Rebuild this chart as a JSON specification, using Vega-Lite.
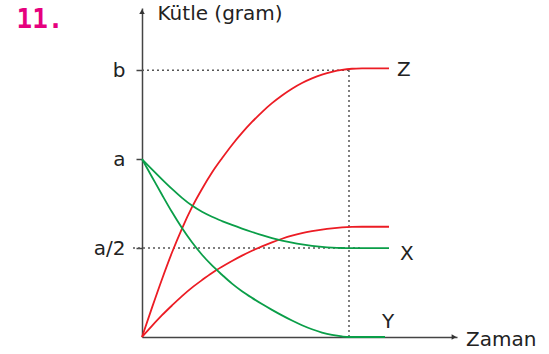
{
  "$schema": "https://vega.github.io/schema/vega-lite/v6.json",
  "width": 315,
  "height": 329,
  "autosize": "none",
  "padding": {"left": 142, "top": 8, "right": 92, "bottom": 17},
  "background": "white",
  "config": {"view": {"stroke": null}, "font": "DejaVu Sans"},
  "datasets": {
    "curves": [
      {"s": "Z", "t": 0, "m": 0},
      {"s": "Z", "t": 1, "m": 0.33},
      {"s": "Z", "t": 2, "m": 0.65},
      {"s": "Z", "t": 3, "m": 0.95},
      {"s": "Z", "t": 4, "m": 1.22},
      {"s": "Z", "t": 5, "m": 1.46},
      {"s": "Z", "t": 6, "m": 1.665},
      {"s": "Z", "t": 7, "m": 1.85},
      {"s": "Z", "t": 8, "m": 2.01},
      {"s": "Z", "t": 9, "m": 2.16},
      {"s": "Z", "t": 10, "m": 2.295},
      {"s": "Z", "t": 11, "m": 2.418},
      {"s": "Z", "t": 12, "m": 2.53},
      {"s": "Z", "t": 13, "m": 2.63},
      {"s": "Z", "t": 14, "m": 2.717},
      {"s": "Z", "t": 15, "m": 2.793},
      {"s": "Z", "t": 16, "m": 2.857},
      {"s": "Z", "t": 17, "m": 2.909},
      {"s": "Z", "t": 18, "m": 2.951},
      {"s": "Z", "t": 19, "m": 2.983},
      {"s": "Z", "t": 20, "m": 3.005},
      {"s": "Z", "t": 21, "m": 3.017},
      {"s": "Z", "t": 22, "m": 3.021},
      {"s": "Z", "t": 23, "m": 3.022},
      {"s": "Z", "t": 24.7, "m": 3.02},
      {"s": "R", "t": 0, "m": 0},
      {"s": "R", "t": 1, "m": 0.125},
      {"s": "R", "t": 2, "m": 0.245},
      {"s": "R", "t": 3, "m": 0.355},
      {"s": "R", "t": 4, "m": 0.46},
      {"s": "R", "t": 5, "m": 0.555},
      {"s": "R", "t": 6, "m": 0.64},
      {"s": "R", "t": 7, "m": 0.72},
      {"s": "R", "t": 8, "m": 0.79},
      {"s": "R", "t": 9, "m": 0.855},
      {"s": "R", "t": 10, "m": 0.915},
      {"s": "R", "t": 11, "m": 0.97},
      {"s": "R", "t": 12, "m": 1.02},
      {"s": "R", "t": 13, "m": 1.065},
      {"s": "R", "t": 14, "m": 1.105},
      {"s": "R", "t": 15, "m": 1.14},
      {"s": "R", "t": 16, "m": 1.168},
      {"s": "R", "t": 17, "m": 1.19},
      {"s": "R", "t": 18, "m": 1.208},
      {"s": "R", "t": 19, "m": 1.222},
      {"s": "R", "t": 20, "m": 1.232},
      {"s": "R", "t": 21, "m": 1.238},
      {"s": "R", "t": 22, "m": 1.24},
      {"s": "R", "t": 24.7, "m": 1.24},
      {"s": "X", "t": 0, "m": 2.0},
      {"s": "X", "t": 1, "m": 1.885},
      {"s": "X", "t": 2, "m": 1.773},
      {"s": "X", "t": 3, "m": 1.665},
      {"s": "X", "t": 4, "m": 1.565},
      {"s": "X", "t": 5, "m": 1.478},
      {"s": "X", "t": 6, "m": 1.408},
      {"s": "X", "t": 7, "m": 1.352},
      {"s": "X", "t": 8, "m": 1.304},
      {"s": "X", "t": 9, "m": 1.26},
      {"s": "X", "t": 10, "m": 1.219},
      {"s": "X", "t": 11, "m": 1.181},
      {"s": "X", "t": 12, "m": 1.145},
      {"s": "X", "t": 13, "m": 1.113},
      {"s": "X", "t": 14, "m": 1.085},
      {"s": "X", "t": 15, "m": 1.061},
      {"s": "X", "t": 16, "m": 1.041},
      {"s": "X", "t": 17, "m": 1.025},
      {"s": "X", "t": 18, "m": 1.013},
      {"s": "X", "t": 19, "m": 1.005},
      {"s": "X", "t": 20, "m": 1.001},
      {"s": "X", "t": 21, "m": 1.0},
      {"s": "X", "t": 24.7, "m": 1.0},
      {"s": "Y", "t": 0, "m": 2.0},
      {"s": "Y", "t": 1, "m": 1.8},
      {"s": "Y", "t": 2, "m": 1.6},
      {"s": "Y", "t": 3, "m": 1.405},
      {"s": "Y", "t": 4, "m": 1.225},
      {"s": "Y", "t": 5, "m": 1.065},
      {"s": "Y", "t": 6, "m": 0.925},
      {"s": "Y", "t": 7, "m": 0.805},
      {"s": "Y", "t": 8, "m": 0.7},
      {"s": "Y", "t": 9, "m": 0.6},
      {"s": "Y", "t": 10, "m": 0.515},
      {"s": "Y", "t": 11, "m": 0.44},
      {"s": "Y", "t": 12, "m": 0.37},
      {"s": "Y", "t": 13, "m": 0.305},
      {"s": "Y", "t": 14, "m": 0.243},
      {"s": "Y", "t": 15, "m": 0.185},
      {"s": "Y", "t": 16, "m": 0.132},
      {"s": "Y", "t": 17, "m": 0.087},
      {"s": "Y", "t": 18, "m": 0.05},
      {"s": "Y", "t": 19, "m": 0.023},
      {"s": "Y", "t": 20, "m": 0.006},
      {"s": "Y", "t": 20.7, "m": 0.0},
      {"s": "Y", "t": 24.3, "m": 0.0}
    ],
    "guides": [
      {"g": "b", "t": 0, "m": 3},
      {"g": "b", "t": 20.7, "m": 3},
      {"g": "h", "t": -0.9, "m": 1},
      {"g": "h", "t": 22, "m": 1},
      {"g": "v", "t": 20.7, "m": 0},
      {"g": "v", "t": 20.7, "m": 3}
    ],
    "arrows": [
      {"dir": "up", "t": 0, "m": 3.66},
      {"dir": "right", "t": 31.2, "m": 0}
    ],
    "labels": [
      {"txt": "Kütle (gram)", "t": 1.55, "m": 3.63},
      {"txt": "Z", "t": 25.5, "m": 3.0},
      {"txt": "X", "t": 25.8, "m": 0.93},
      {"txt": "Y", "t": 24.0, "m": 0.17},
      {"txt": "Zaman", "t": 32.4, "m": -0.03}
    ],
    "num": [
      {"txt": "11.", "t": -12.55, "m": 3.57}
    ]
  },
  "encoding": {
    "x": {
      "field": "t", "type": "quantitative",
      "scale": {"domain": [0, 31.5], "nice": false, "zero": false},
      "axis": {"values": [], "title": null, "grid": false, "ticks": false, "labels": false, "domainColor": "#444", "domainWidth": 1.5}
    },
    "y": {
      "field": "m", "type": "quantitative",
      "scale": {"domain": [0, 3.7], "nice": false, "zero": false},
      "axis": {
        "values": [1, 2, 3],
        "labelExpr": "datum.value == 3 ? 'b' : datum.value == 2 ? 'a' : 'a/2'",
        "title": null, "grid": false,
        "tickSize": 6, "tickColor": "#444", "tickWidth": 1.5,
        "domainColor": "#444", "domainWidth": 1.5,
        "labelFontSize": 20, "labelColor": "#222", "labelPadding": 11, "labelBaseline": "middle"
      }
    }
  },
  "layer": [
    {
      "data": {"name": "guides"},
      "mark": {"type": "line", "color": "#555", "strokeWidth": 1.5, "strokeDash": [2, 3]},
      "encoding": {"detail": {"field": "g"}}
    },
    {
      "data": {"name": "curves"},
      "mark": {"type": "line", "strokeWidth": 1.8, "interpolate": "monotone"},
      "encoding": {
        "detail": {"field": "s"},
        "color": {"field": "s", "type": "nominal", "legend": null,
          "scale": {"domain": ["Z", "R", "X", "Y"], "range": ["#ec1c24", "#ec1c24", "#0a9e48", "#0a9e48"]}}
      }
    },
    {
      "data": {"name": "arrows"},
      "transform": [{"filter": "datum.dir == 'up'"}],
      "mark": {"type": "point", "shape": "triangle-up", "filled": true, "color": "#333", "size": 30, "opacity": 1}
    },
    {
      "data": {"name": "arrows"},
      "transform": [{"filter": "datum.dir == 'right'"}],
      "mark": {"type": "point", "shape": "triangle-right", "filled": true, "color": "#333", "size": 30, "opacity": 1}
    },
    {
      "data": {"name": "labels"},
      "mark": {"type": "text", "align": "left", "baseline": "middle", "fontSize": 20, "color": "#222"},
      "encoding": {"text": {"field": "txt"}}
    },
    {
      "data": {"name": "num"},
      "mark": {"type": "text", "align": "left", "baseline": "middle", "fontSize": 26, "font": "DejaVu Sans Mono", "fontWeight": "bold", "color": "#e6007e"},
      "encoding": {"text": {"field": "txt"}}
    }
  ]
}
